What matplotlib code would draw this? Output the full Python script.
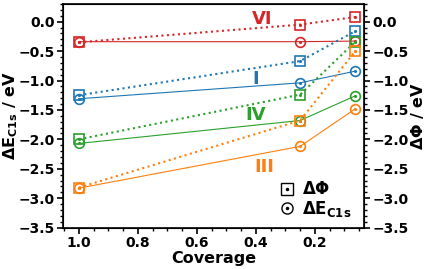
import matplotlib
matplotlib.use('Agg')
import matplotlib.pyplot as plt
from matplotlib.ticker import MultipleLocator
from matplotlib.legend_handler import HandlerTuple
from matplotlib.lines import Line2D

plt.rcParams['font.weight'] = 'bold'
plt.rcParams['axes.labelweight'] = 'bold'

coverage = [1.0, 0.25, 0.0625]
names = ['VI', 'I', 'IV', 'III']
colors = ['#d62728', '#1f77b4', '#2ca02c', '#ff7f0e']
dphi = [[-0.35, -0.05, 0.08],
        [-1.25, -0.67, -0.16],
        [-2.0, -1.24, -0.34],
        [-2.82, -1.68, -0.5]]
de_c1s = [[-0.34, -0.34, -0.33],
          [-1.31, -1.04, -0.84],
          [-2.07, -1.68, -1.26],
          [-2.83, -2.12, -1.48]]
label_pos = [(0.38, 0.05), (0.40, -0.98), (0.40, -1.58), (0.37, -2.47)]

fig = plt.figure(figsize=(4.25, 2.69), dpi=100)
ax = fig.add_axes([0.148, 0.154, 0.708, 0.831])

for name, c, p, e, pos in zip(names, colors, dphi, de_c1s, label_pos):
    ax.plot(coverage, e, '-', color=c, lw=0.8, marker='o', ms=7, mfc='none', mew=1.2)
    ax.plot(coverage, e, ' ', color=c, marker='.', ms=2.5)
    ax.plot(coverage, p, ':', color=c, lw=1.5, marker='s', ms=7, mfc='none', mew=1.2)
    ax.plot(coverage, p, ' ', color=c, marker='.', ms=2.5)
    ax.text(pos[0], pos[1], name, color=c, fontsize=13, fontweight='bold', ha='center', va='center')

ax.set_xlim(1.054, 0.034)
ax.set_ylim(-3.5, 0.3)
ax.xaxis.set_major_locator(MultipleLocator(0.2))
ax.xaxis.set_minor_locator(MultipleLocator(0.05))
ax.yaxis.set_major_locator(MultipleLocator(0.5))
ax.yaxis.set_minor_locator(MultipleLocator(0.1))
ax.tick_params(labelsize=10, width=1.2, length=4, pad=2)
ax.tick_params(which='minor', width=1, length=2.5)
ax.set_xlabel('Coverage', fontsize=11.5, labelpad=1)
ax.set_ylabel(r'$\mathbf{\Delta E_{C1s}}$ / eV', fontsize=11.5)
ax.yaxis.set_label_coords(-0.142, 0.5)
for s in ax.spines.values():
    s.set_linewidth(1.2)

ax2 = ax.twinx()
ax2.set_ylim(-3.5, 0.3)
ax2.yaxis.set_major_locator(MultipleLocator(0.5))
ax2.yaxis.set_minor_locator(MultipleLocator(0.1))
ax2.tick_params(labelsize=10, width=1.2, length=4, pad=2)
ax2.tick_params(which='minor', width=1, length=2.5)
ax2.set_ylabel(r'$\mathbf{\Delta \Phi}$ / eV', fontsize=11.5, labelpad=0)

sq = Line2D([], [], ls='none', marker='s', ms=8, mfc='none', mec='k', mew=1)
ci = Line2D([], [], ls='none', marker='o', ms=8, mfc='none', mec='k', mew=1)
dot = Line2D([], [], ls='none', marker='.', ms=3, color='k')
ax.legend([(sq, dot), (ci, dot)], [r'$\mathbf{\Delta \Phi}$', r'$\mathbf{\Delta E_{C1s}}$'],
          handler_map={tuple: HandlerTuple(ndivide=1, pad=0)},
          loc='lower right', frameon=False, fontsize=12, handlelength=1.0,
          handletextpad=0.4, labelspacing=0.05, borderaxespad=0.1,
          bbox_to_anchor=(0.985, 0.0))

fig.savefig('out.png', dpi=100)
